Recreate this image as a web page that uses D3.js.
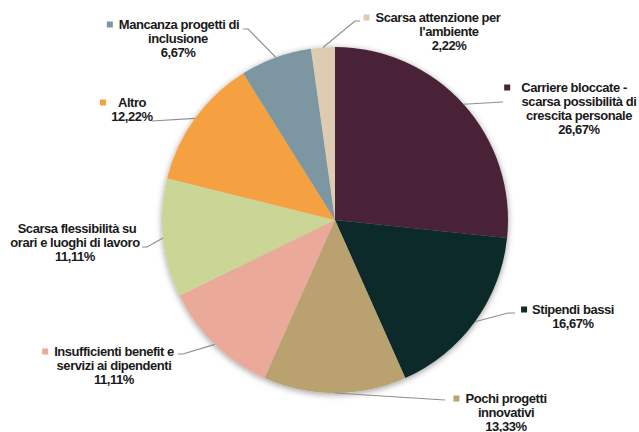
<!DOCTYPE html>
<html>
<head>
<meta charset="utf-8">
<script src="https://cdn.jsdelivr.net/npm/d3@7"></script>
<style>
  html, body { margin: 0; padding: 0; background: #fff; }
  svg { display: block; }
  .lbl { font-family: "Liberation Sans", Arial, sans-serif; font-weight: bold; font-size: 13px; letter-spacing: -0.45px; fill: #1a1a1a; }
</style>
</head>
<body>
<svg id="chart" width="639" height="432"></svg>
<script>
// Motivi di insoddisfazione (quote percentuali)
const categories = [
  "Carriere bloccate - scarsa possibilità di crescita personale",
  "Stipendi bassi",
  "Pochi progetti innovativi",
  "Insufficienti benefit e servizi ai dipendenti",
  "Scarsa flessibilità su orari e luoghi di lavoro",
  "Altro",
  "Mancanza progetti di inclusione",
  "Scarsa attenzione per l'ambiente"
];
const values = [26.67, 16.67, 13.33, 11.11, 11.11, 12.22, 6.67, 2.22];
const valueLabels = ["26,67%", "16,67%", "13,33%", "11,11%", "11,11%", "12,22%", "6,67%", "2,22%"];
const labelLines = [
  ["Carriere bloccate -", "scarsa possibilità di", "crescita personale"],
  ["Stipendi bassi"],
  ["Pochi progetti", "innovativi"],
  ["Insufficienti benefit e", "servizi ai dipendenti"],
  ["Scarsa flessibilità su", "orari e luoghi di lavoro"],
  ["Altro"],
  ["Mancanza progetti di", "inclusione"],
  ["Scarsa attenzione per", "l'ambiente"]
];
const colors = ["#4a2338", "#0d2b2b", "#b9a170", "#eba999", "#cbd596", "#f5a142", "#7b97a1", "#ddccb1"];

// Label placement: line centre, first-line centre, first baseline, bullet gap, leader path
const labelLayout = [
  { cx: 579, x1: 574, y: 92,  gap: 11, leader: [[503, 102]] },
  { cx: 573, x1: 573, y: 314, gap: 5,  leader: [[508, 313], [515, 313]] },
  { cx: 506, x1: 506, y: 403, gap: 6,  leader: [[445, 400]] },
  { cx: 114, x1: 114, y: 356, gap: 6,  leader: [[183, 354], [178, 354]] },
  { cx: 75,  x1: 77,  y: 233, gap: 22, leader: [[147, 247], [142, 247]] },
  { cx: 132, x1: 132, y: 107, gap: 12, leader: [[152, 121]] },
  { cx: 178, x1: 179, y: 29,  gap: 6,  leader: [[248, 29], [243, 29]] },
  { cx: 449, x1: 438, y: 22,  gap: 6,  leader: [[355, 21], [360, 21]] }
];

const svg = d3.select("#chart");
const cx = 335, cy = 220, radius = 173, lineH = 14;

const defs = svg.append("defs");
const f = defs.append("filter").attr("id", "shadow")
  .attr("x", "-10%").attr("y", "-10%").attr("width", "120%").attr("height", "120%");
f.append("feDropShadow").attr("dx", 0).attr("dy", 1.5).attr("stdDeviation", 3)
  .attr("flood-color", "#000").attr("flood-opacity", 0.4);

const data = categories.map((c, i) => ({ name: c, value: values[i], i }));
const pie = d3.pie().value(d => d.value).sort(null).startAngle(0).endAngle(2 * Math.PI);
const arcs = pie(data);
const arc = d3.arc().innerRadius(0).outerRadius(radius);

const g = svg.append("g").attr("transform", `translate(${cx},${cy})`);
g.append("g").attr("filter", "url(#shadow)")
  .selectAll("path").data(arcs).join("path")
  .attr("d", arc)
  .attr("fill", d => colors[d.data.i]);

// Leader lines from the slice edge to the label
const line = d3.line();
arcs.forEach(a => {
  const mid = (a.startAngle + a.endAngle) / 2;
  const p0 = [cx + radius * Math.sin(mid), cy - radius * Math.cos(mid)];
  const pts = [p0].concat(labelLayout[a.data.i].leader);
  svg.append("path").attr("d", line(pts))
    .attr("fill", "none").attr("stroke", "#8e8e8e").attr("stroke-width", 1.2);
});

// Labels with colour key
arcs.forEach(a => {
  const i = a.data.i, L = labelLayout[i];
  const lines = labelLines[i].concat([valueLabels[i]]);
  const lg = svg.append("g");
  let firstText;
  lines.forEach((t, k) => {
    const tx = lg.append("text").attr("class", "lbl")
      .attr("x", k === 0 ? L.x1 : L.cx)
      .attr("y", L.y + k * lineH)
      .attr("text-anchor", "middle")
      .text(t);
    if (k === 0) firstText = tx;
  });
  const w = firstText.node().getComputedTextLength();
  const left = L.x1 - w / 2;
  lg.append("rect")
    .attr("x", left - L.gap - 6).attr("y", L.y - 7.5)
    .attr("width", 6).attr("height", 6)
    .attr("fill", colors[i]);
});
</script>
</body>
</html>
